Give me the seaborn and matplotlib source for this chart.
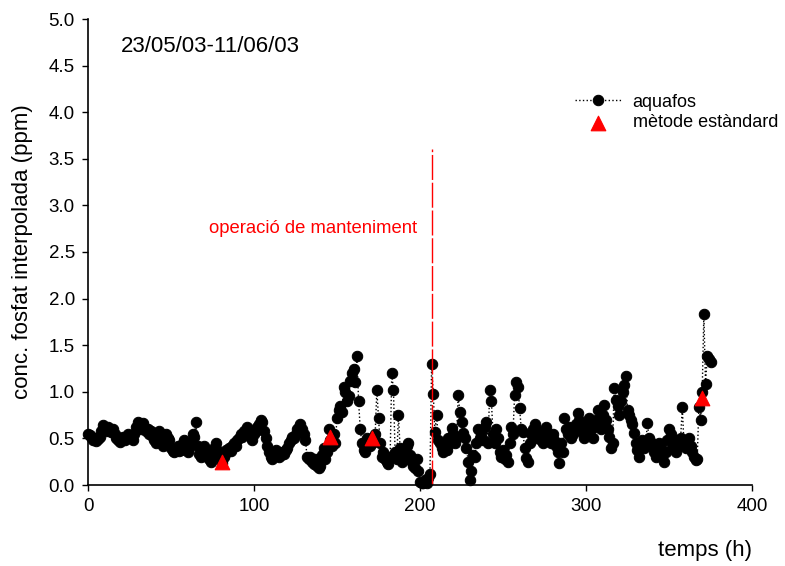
import numpy as np
import pandas as pd
import matplotlib
matplotlib.use("Agg")
import matplotlib.pyplot as plt
import seaborn as sns

# hourly aquafos readings (ppm), h = 0 .. 375
aquafos = [
    0.55, 0.54, 0.52, 0.48, 0.50, 0.47, 0.49, 0.52, 0.58, 0.64, 0.60, 0.58, 0.62, 0.60, 0.57, 0.60, 0.55, 0.50, 0.48, 0.46,
    0.50, 0.52, 0.48, 0.50, 0.55, 0.53, 0.50, 0.48, 0.55, 0.62, 0.68, 0.65, 0.60, 0.66, 0.62, 0.58, 0.60, 0.55, 0.58, 0.52,
    0.48, 0.45, 0.55, 0.58, 0.52, 0.42, 0.45, 0.55, 0.50, 0.48, 0.40, 0.37, 0.35, 0.38, 0.42, 0.36, 0.38, 0.45, 0.48, 0.42,
    0.35, 0.40, 0.45, 0.55, 0.52, 0.68, 0.42, 0.33, 0.30, 0.35, 0.42, 0.38, 0.30, 0.28, 0.25, 0.32, 0.40, 0.45, 0.38, 0.30,
    0.28, 0.24, 0.30, 0.38, 0.35, 0.40, 0.37, 0.42, 0.45, 0.42, 0.48, 0.50, 0.55, 0.52, 0.58, 0.55, 0.62, 0.58, 0.52, 0.48,
    0.55, 0.58, 0.62, 0.65, 0.70, 0.68, 0.58, 0.50, 0.42, 0.35, 0.30, 0.28, 0.32, 0.38, 0.35, 0.30, 0.32, 0.35, 0.33, 0.38,
    0.40, 0.45, 0.48, 0.52, 0.50, 0.55, 0.60, 0.62, 0.65, 0.60, 0.55, 0.48, 0.30, 0.28, 0.30, 0.25, 0.22, 0.28, 0.20, 0.18,
    0.20, 0.32, 0.40, 0.28, 0.35, 0.60, 0.48, 0.42, 0.55, 0.45, 0.72, 0.80, 0.85, 0.78, 1.05, 1.00, 0.90, 0.95, 1.12, 1.20,
    1.25, 1.10, 1.38, 0.90, 0.60, 0.45, 0.38, 0.35, 0.50, 0.48, 0.42, 0.45, 0.50, 0.55, 1.02, 0.72, 0.45, 0.30, 0.35, 0.28,
    0.25, 0.22, 0.30, 1.20, 1.02, 0.35, 0.28, 0.75, 0.40, 0.25, 0.30, 0.38, 0.42, 0.45, 0.32, 0.25, 0.20, 0.18, 0.28, 0.15,
    0.03, 0.02, 0.02, 0.05, 0.02, 0.08, 0.12, 1.30, 0.98, 0.57, 0.75, 0.48, 0.45, 0.40, 0.35, 0.43, 0.38, 0.50, 0.45, 0.61,
    0.55, 0.45, 0.52, 0.97, 0.78, 0.68, 0.56, 0.50, 0.40, 0.25, 0.05, 0.15, 0.32, 0.30, 0.45, 0.60, 0.50, 0.55, 0.48, 0.62,
    0.68, 0.45, 1.02, 0.90, 0.55, 0.45, 0.60, 0.50, 0.35, 0.30, 0.38, 0.28, 0.32, 0.25, 0.45, 0.62, 0.55, 0.97, 1.10, 1.05,
    0.83, 0.60, 0.57, 0.40, 0.29, 0.25, 0.45, 0.55, 0.60, 0.65, 0.50, 0.58, 0.52, 0.48, 0.45, 0.55, 0.62, 0.48, 0.52, 0.45,
    0.55, 0.48, 0.42, 0.35, 0.24, 0.45, 0.35, 0.72, 0.60, 0.55, 0.62, 0.50, 0.55, 0.60, 0.65, 0.77, 0.70, 0.58, 0.62, 0.50,
    0.55, 0.65, 0.72, 0.60, 0.50, 0.62, 0.70, 0.80, 0.65, 0.60, 0.75, 0.86, 0.70, 0.60, 0.51, 0.40, 0.45, 1.04, 0.91, 0.85,
    0.75, 0.90, 1.00, 1.07, 1.17, 0.80, 0.75, 0.70, 0.65, 0.56, 0.45, 0.38, 0.30, 0.42, 0.48, 0.40, 0.45, 0.66, 0.50, 0.42,
    0.45, 0.35, 0.30, 0.38, 0.45, 0.40, 0.30, 0.25, 0.35, 0.48, 0.60, 0.55, 0.40, 0.45, 0.35, 0.48, 0.42, 0.50, 0.84, 0.45,
    0.40, 0.48, 0.50, 0.42, 0.35, 0.30, 0.27, 0.28, 0.84, 0.70, 1.00, 1.84, 1.08, 1.38, 1.35, 1.32,
]
hours = np.arange(len(aquafos))

# standard method samples
std_hours = [81, 146, 171, 370]
std_values = [0.25, 0.51, 0.50, 0.93]

maintenance_h = 207
maintenance_top = 3.6

sns.set_style("ticks")
plt.rcParams['font.family'] = ['Liberation Sans', 'DejaVu Sans']
plt.rcParams['text.color'] = 'black'

fig = plt.figure(figsize=(7.85, 5.66), dpi=100)
ax = fig.add_axes([88 / 785, 1 - 485 / 566, (752 - 88) / 785, (485 - 19) / 566])

df = pd.DataFrame({'h': hours, 'c': aquafos})
sns.lineplot(data=df, x='h', y='c', ax=ax, color='black', linestyle=':', linewidth=1,
             marker='o', markersize=7.5, markeredgecolor='black', label='aquafos', clip_on=False)
sns.scatterplot(x=std_hours, y=std_values, ax=ax, marker='^', color='red', s=110,
                edgecolor='red', label='mètode estàndard', zorder=5)

ax.plot([maintenance_h, maintenance_h], [0, maintenance_top], color='red', linewidth=1,
        dashes=(18, 2))
ax.text(198, 2.75, 'operació de manteniment', color='red', fontsize=13.3, ha='right', va='center')
ax.text(0.05, 0.94, '23/05/03-11/06/03', transform=ax.transAxes, fontsize=16,
        ha='left', va='center', color='black')

ax.set_xlim(0, 400)
ax.set_ylim(0, 5)
ax.set_xticks([0, 100, 200, 300, 400])
ax.set_yticks(np.arange(0, 5.01, 0.5))
ax.yaxis.set_major_formatter(matplotlib.ticker.FormatStrFormatter('%.1f'))
ax.tick_params(labelsize=13.5, length=4.5, width=1, colors='black', pad=5)
for s in ['left', 'bottom']:
    ax.spines[s].set_linewidth(1.2)
    ax.spines[s].set_color('black')
sns.despine(ax=ax)

ax.set_ylabel('conc. fosfat interpolada (ppm)', fontsize=16, color='black')
ax.yaxis.set_label_coords(-0.083, 0.5)
ax.set_xlabel('temps (h)', fontsize=16, ha='right', color='black')
ax.xaxis.set_label_coords(1.0, -0.118)

leg = ax.legend(loc='upper left', bbox_to_anchor=(567 / 785, 1 - 82 / 566), frameon=False,
                fontsize=13, handlelength=2.6, handletextpad=0.6, labelspacing=0.2,
                borderaxespad=0)
for t in leg.get_texts():
    t.set_color('black')

fig.savefig('out.png', dpi=100)
